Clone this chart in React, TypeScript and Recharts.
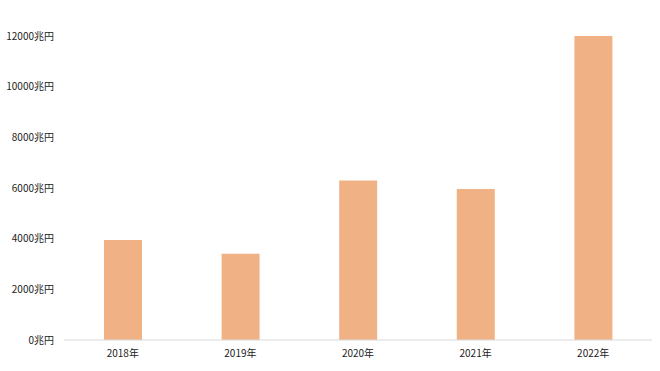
import React from "react";
import { BarChart, Bar, XAxis, YAxis } from "recharts";

const years = ["2018年", "2019年", "2020年", "2021年", "2022年"];
const values = [3950, 3400, 6300, 5960, 12000];
const yTicks = [0, 2000, 4000, 6000, 8000, 10000, 12000];

const data = years.map((y, i) => ({ year: y, value: values[i] }));

export default function App() {
  return (
    <div style={{ position: "absolute", left: 0, top: 0, background: "#fff" }}>
      <BarChart
        width={660}
        height={371}
        data={data}
        margin={{ top: 36, right: 8, bottom: 0, left: 0 }}
        barCategoryGap="34%"
      >
        <XAxis
          dataKey="year"
          height={31}
          tickLine={false}
          axisLine={{ stroke: "#d9d9d9" }}
          tick={{ fontSize: 10, fill: "#222", fontFamily: "'Noto Sans CJK JP', sans-serif" }}
          tickMargin={4}
        />
        <YAxis
          width={64}
          domain={[0, 12000]}
          ticks={yTicks}
          interval={0}
          axisLine={false}
          tickLine={false}
          tickMargin={4}
          tickFormatter={(v: number) => `${v}兆円`}
          tick={{ fontSize: 10, fill: "#222", fontFamily: "'Noto Sans CJK JP', sans-serif" }}
        />
        <Bar dataKey="value" fill="#F0B285" isAnimationActive={false} />
      </BarChart>
    </div>
  );
}
